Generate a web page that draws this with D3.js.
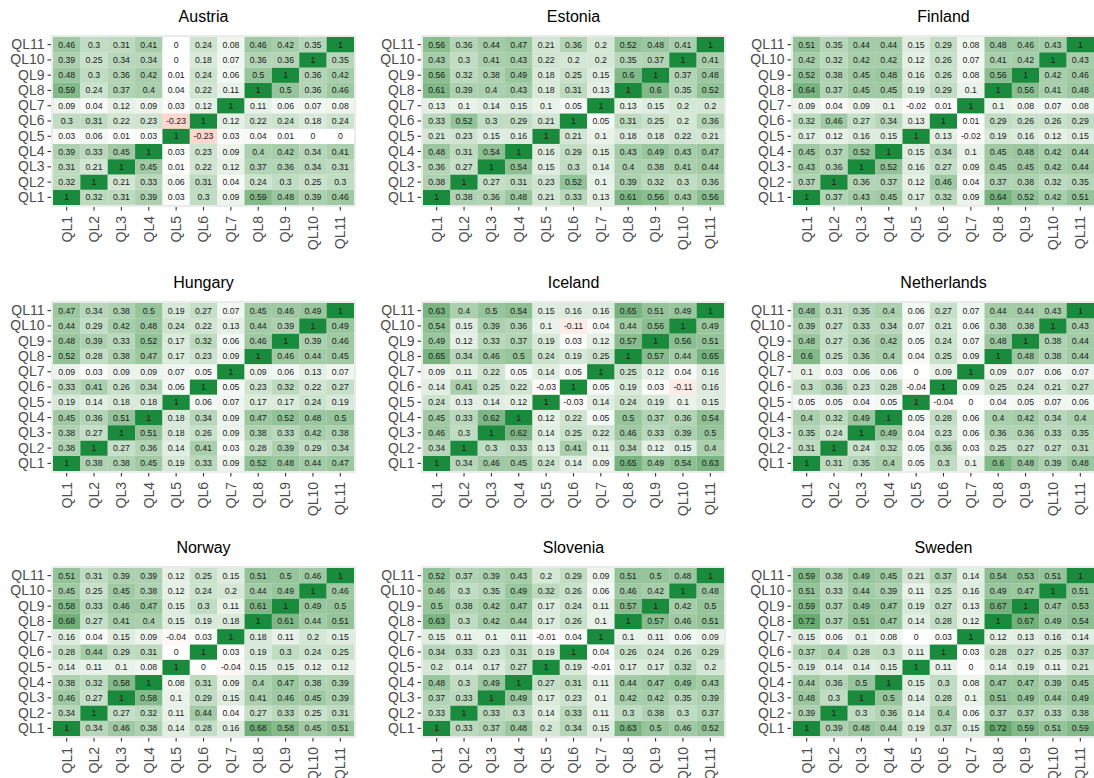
<!DOCTYPE html>
<html>
<head>
<meta charset="utf-8">
<script src="https://cdn.jsdelivr.net/npm/d3@7"></script>
<style>
  html, body { margin: 0; padding: 0; background: #ffffff; }
  svg { display: block; font-family: "Liberation Sans", Arial, sans-serif; }
</style>
</head>
<body>
<svg id="chart" width="1094" height="778"></svg>
<script>
// Item labels shared by every country matrix
const items = ["QL1", "QL2", "QL3", "QL4", "QL5", "QL6", "QL7", "QL8", "QL9", "QL10", "QL11"];

const countries = ["Austria", "Estonia", "Finland", "Hungary", "Iceland", "Netherlands", "Norway", "Slovenia", "Sweden"];

// Correlation matrices, row i = QL(i+1), column j = QL(j+1)
const austria = [
  [1, 0.32, 0.31, 0.39, 0.03, 0.3, 0.09, 0.59, 0.48, 0.39, 0.46],
  [0.32, 1, 0.21, 0.33, 0.06, 0.31, 0.04, 0.24, 0.3, 0.25, 0.3],
  [0.31, 0.21, 1, 0.45, 0.01, 0.22, 0.12, 0.37, 0.36, 0.34, 0.31],
  [0.39, 0.33, 0.45, 1, 0.03, 0.23, 0.09, 0.4, 0.42, 0.34, 0.41],
  [0.03, 0.06, 0.01, 0.03, 1, -0.23, 0.03, 0.04, 0.01, 0, 0],
  [0.3, 0.31, 0.22, 0.23, -0.23, 1, 0.12, 0.22, 0.24, 0.18, 0.24],
  [0.09, 0.04, 0.12, 0.09, 0.03, 0.12, 1, 0.11, 0.06, 0.07, 0.08],
  [0.59, 0.24, 0.37, 0.4, 0.04, 0.22, 0.11, 1, 0.5, 0.36, 0.46],
  [0.48, 0.3, 0.36, 0.42, 0.01, 0.24, 0.06, 0.5, 1, 0.36, 0.42],
  [0.39, 0.25, 0.34, 0.34, 0, 0.18, 0.07, 0.36, 0.36, 1, 0.35],
  [0.46, 0.3, 0.31, 0.41, 0, 0.24, 0.08, 0.46, 0.42, 0.35, 1]
];

const estonia = [
  [1, 0.38, 0.36, 0.48, 0.21, 0.33, 0.13, 0.61, 0.56, 0.43, 0.56],
  [0.38, 1, 0.27, 0.31, 0.23, 0.52, 0.1, 0.39, 0.32, 0.3, 0.36],
  [0.36, 0.27, 1, 0.54, 0.15, 0.3, 0.14, 0.4, 0.38, 0.41, 0.44],
  [0.48, 0.31, 0.54, 1, 0.16, 0.29, 0.15, 0.43, 0.49, 0.43, 0.47],
  [0.21, 0.23, 0.15, 0.16, 1, 0.21, 0.1, 0.18, 0.18, 0.22, 0.21],
  [0.33, 0.52, 0.3, 0.29, 0.21, 1, 0.05, 0.31, 0.25, 0.2, 0.36],
  [0.13, 0.1, 0.14, 0.15, 0.1, 0.05, 1, 0.13, 0.15, 0.2, 0.2],
  [0.61, 0.39, 0.4, 0.43, 0.18, 0.31, 0.13, 1, 0.6, 0.35, 0.52],
  [0.56, 0.32, 0.38, 0.49, 0.18, 0.25, 0.15, 0.6, 1, 0.37, 0.48],
  [0.43, 0.3, 0.41, 0.43, 0.22, 0.2, 0.2, 0.35, 0.37, 1, 0.41],
  [0.56, 0.36, 0.44, 0.47, 0.21, 0.36, 0.2, 0.52, 0.48, 0.41, 1]
];

const finland = [
  [1, 0.37, 0.43, 0.45, 0.17, 0.32, 0.09, 0.64, 0.52, 0.42, 0.51],
  [0.37, 1, 0.36, 0.37, 0.12, 0.46, 0.04, 0.37, 0.38, 0.32, 0.35],
  [0.43, 0.36, 1, 0.52, 0.16, 0.27, 0.09, 0.45, 0.45, 0.42, 0.44],
  [0.45, 0.37, 0.52, 1, 0.15, 0.34, 0.1, 0.45, 0.48, 0.42, 0.44],
  [0.17, 0.12, 0.16, 0.15, 1, 0.13, -0.02, 0.19, 0.16, 0.12, 0.15],
  [0.32, 0.46, 0.27, 0.34, 0.13, 1, 0.01, 0.29, 0.26, 0.26, 0.29],
  [0.09, 0.04, 0.09, 0.1, -0.02, 0.01, 1, 0.1, 0.08, 0.07, 0.08],
  [0.64, 0.37, 0.45, 0.45, 0.19, 0.29, 0.1, 1, 0.56, 0.41, 0.48],
  [0.52, 0.38, 0.45, 0.48, 0.16, 0.26, 0.08, 0.56, 1, 0.42, 0.46],
  [0.42, 0.32, 0.42, 0.42, 0.12, 0.26, 0.07, 0.41, 0.42, 1, 0.43],
  [0.51, 0.35, 0.44, 0.44, 0.15, 0.29, 0.08, 0.48, 0.46, 0.43, 1]
];

const hungary = [
  [1, 0.38, 0.38, 0.45, 0.19, 0.33, 0.09, 0.52, 0.48, 0.44, 0.47],
  [0.38, 1, 0.27, 0.36, 0.14, 0.41, 0.03, 0.28, 0.39, 0.29, 0.34],
  [0.38, 0.27, 1, 0.51, 0.18, 0.26, 0.09, 0.38, 0.33, 0.42, 0.38],
  [0.45, 0.36, 0.51, 1, 0.18, 0.34, 0.09, 0.47, 0.52, 0.48, 0.5],
  [0.19, 0.14, 0.18, 0.18, 1, 0.06, 0.07, 0.17, 0.17, 0.24, 0.19],
  [0.33, 0.41, 0.26, 0.34, 0.06, 1, 0.05, 0.23, 0.32, 0.22, 0.27],
  [0.09, 0.03, 0.09, 0.09, 0.07, 0.05, 1, 0.09, 0.06, 0.13, 0.07],
  [0.52, 0.28, 0.38, 0.47, 0.17, 0.23, 0.09, 1, 0.46, 0.44, 0.45],
  [0.48, 0.39, 0.33, 0.52, 0.17, 0.32, 0.06, 0.46, 1, 0.39, 0.46],
  [0.44, 0.29, 0.42, 0.48, 0.24, 0.22, 0.13, 0.44, 0.39, 1, 0.49],
  [0.47, 0.34, 0.38, 0.5, 0.19, 0.27, 0.07, 0.45, 0.46, 0.49, 1]
];

const iceland = [
  [1, 0.34, 0.46, 0.45, 0.24, 0.14, 0.09, 0.65, 0.49, 0.54, 0.63],
  [0.34, 1, 0.3, 0.33, 0.13, 0.41, 0.11, 0.34, 0.12, 0.15, 0.4],
  [0.46, 0.3, 1, 0.62, 0.14, 0.25, 0.22, 0.46, 0.33, 0.39, 0.5],
  [0.45, 0.33, 0.62, 1, 0.12, 0.22, 0.05, 0.5, 0.37, 0.36, 0.54],
  [0.24, 0.13, 0.14, 0.12, 1, -0.03, 0.14, 0.24, 0.19, 0.1, 0.15],
  [0.14, 0.41, 0.25, 0.22, -0.03, 1, 0.05, 0.19, 0.03, -0.11, 0.16],
  [0.09, 0.11, 0.22, 0.05, 0.14, 0.05, 1, 0.25, 0.12, 0.04, 0.16],
  [0.65, 0.34, 0.46, 0.5, 0.24, 0.19, 0.25, 1, 0.57, 0.44, 0.65],
  [0.49, 0.12, 0.33, 0.37, 0.19, 0.03, 0.12, 0.57, 1, 0.56, 0.51],
  [0.54, 0.15, 0.39, 0.36, 0.1, -0.11, 0.04, 0.44, 0.56, 1, 0.49],
  [0.63, 0.4, 0.5, 0.54, 0.15, 0.16, 0.16, 0.65, 0.51, 0.49, 1]
];

const netherlands = [
  [1, 0.31, 0.35, 0.4, 0.05, 0.3, 0.1, 0.6, 0.48, 0.39, 0.48],
  [0.31, 1, 0.24, 0.32, 0.05, 0.36, 0.03, 0.25, 0.27, 0.27, 0.31],
  [0.35, 0.24, 1, 0.49, 0.04, 0.23, 0.06, 0.36, 0.36, 0.33, 0.35],
  [0.4, 0.32, 0.49, 1, 0.05, 0.28, 0.06, 0.4, 0.42, 0.34, 0.4],
  [0.05, 0.05, 0.04, 0.05, 1, -0.04, 0, 0.04, 0.05, 0.07, 0.06],
  [0.3, 0.36, 0.23, 0.28, -0.04, 1, 0.09, 0.25, 0.24, 0.21, 0.27],
  [0.1, 0.03, 0.06, 0.06, 0, 0.09, 1, 0.09, 0.07, 0.06, 0.07],
  [0.6, 0.25, 0.36, 0.4, 0.04, 0.25, 0.09, 1, 0.48, 0.38, 0.44],
  [0.48, 0.27, 0.36, 0.42, 0.05, 0.24, 0.07, 0.48, 1, 0.38, 0.44],
  [0.39, 0.27, 0.33, 0.34, 0.07, 0.21, 0.06, 0.38, 0.38, 1, 0.43],
  [0.48, 0.31, 0.35, 0.4, 0.06, 0.27, 0.07, 0.44, 0.44, 0.43, 1]
];

const norway = [
  [1, 0.34, 0.46, 0.38, 0.14, 0.28, 0.16, 0.68, 0.58, 0.45, 0.51],
  [0.34, 1, 0.27, 0.32, 0.11, 0.44, 0.04, 0.27, 0.33, 0.25, 0.31],
  [0.46, 0.27, 1, 0.58, 0.1, 0.29, 0.15, 0.41, 0.46, 0.45, 0.39],
  [0.38, 0.32, 0.58, 1, 0.08, 0.31, 0.09, 0.4, 0.47, 0.38, 0.39],
  [0.14, 0.11, 0.1, 0.08, 1, 0, -0.04, 0.15, 0.15, 0.12, 0.12],
  [0.28, 0.44, 0.29, 0.31, 0, 1, 0.03, 0.19, 0.3, 0.24, 0.25],
  [0.16, 0.04, 0.15, 0.09, -0.04, 0.03, 1, 0.18, 0.11, 0.2, 0.15],
  [0.68, 0.27, 0.41, 0.4, 0.15, 0.19, 0.18, 1, 0.61, 0.44, 0.51],
  [0.58, 0.33, 0.46, 0.47, 0.15, 0.3, 0.11, 0.61, 1, 0.49, 0.5],
  [0.45, 0.25, 0.45, 0.38, 0.12, 0.24, 0.2, 0.44, 0.49, 1, 0.46],
  [0.51, 0.31, 0.39, 0.39, 0.12, 0.25, 0.15, 0.51, 0.5, 0.46, 1]
];

const slovenia = [
  [1, 0.33, 0.37, 0.48, 0.2, 0.34, 0.15, 0.63, 0.5, 0.46, 0.52],
  [0.33, 1, 0.33, 0.3, 0.14, 0.33, 0.11, 0.3, 0.38, 0.3, 0.37],
  [0.37, 0.33, 1, 0.49, 0.17, 0.23, 0.1, 0.42, 0.42, 0.35, 0.39],
  [0.48, 0.3, 0.49, 1, 0.27, 0.31, 0.11, 0.44, 0.47, 0.49, 0.43],
  [0.2, 0.14, 0.17, 0.27, 1, 0.19, -0.01, 0.17, 0.17, 0.32, 0.2],
  [0.34, 0.33, 0.23, 0.31, 0.19, 1, 0.04, 0.26, 0.24, 0.26, 0.29],
  [0.15, 0.11, 0.1, 0.11, -0.01, 0.04, 1, 0.1, 0.11, 0.06, 0.09],
  [0.63, 0.3, 0.42, 0.44, 0.17, 0.26, 0.1, 1, 0.57, 0.46, 0.51],
  [0.5, 0.38, 0.42, 0.47, 0.17, 0.24, 0.11, 0.57, 1, 0.42, 0.5],
  [0.46, 0.3, 0.35, 0.49, 0.32, 0.26, 0.06, 0.46, 0.42, 1, 0.48],
  [0.52, 0.37, 0.39, 0.43, 0.2, 0.29, 0.09, 0.51, 0.5, 0.48, 1]
];

const sweden = [
  [1, 0.39, 0.48, 0.44, 0.19, 0.37, 0.15, 0.72, 0.59, 0.51, 0.59],
  [0.39, 1, 0.3, 0.36, 0.14, 0.4, 0.06, 0.37, 0.37, 0.33, 0.38],
  [0.48, 0.3, 1, 0.5, 0.14, 0.28, 0.1, 0.51, 0.49, 0.44, 0.49],
  [0.44, 0.36, 0.5, 1, 0.15, 0.3, 0.08, 0.47, 0.47, 0.39, 0.45],
  [0.19, 0.14, 0.14, 0.15, 1, 0.11, 0, 0.14, 0.19, 0.11, 0.21],
  [0.37, 0.4, 0.28, 0.3, 0.11, 1, 0.03, 0.28, 0.27, 0.25, 0.37],
  [0.15, 0.06, 0.1, 0.08, 0, 0.03, 1, 0.12, 0.13, 0.16, 0.14],
  [0.72, 0.37, 0.51, 0.47, 0.14, 0.28, 0.12, 1, 0.67, 0.49, 0.54],
  [0.59, 0.37, 0.49, 0.47, 0.19, 0.27, 0.13, 0.67, 1, 0.47, 0.53],
  [0.51, 0.33, 0.44, 0.39, 0.11, 0.25, 0.16, 0.49, 0.47, 1, 0.51],
  [0.59, 0.38, 0.49, 0.45, 0.21, 0.37, 0.14, 0.54, 0.53, 0.51, 1]
];

const matrices = [austria, estonia, finland, hungary, iceland, netherlands, norway, slovenia, sweden];

// ---- layout ----
const svg = d3.select("#chart");
const colOffsets = [0, 370, 740];
const cellTops = [37, 303, 568];
const cellLeft = 53;
const gridW = 301;
const gridH = 168;

// diverging fill: red for negative, white at zero, green for positive
const fill = d3.scaleLinear()
  .domain([-1, 0, 1])
  .range(["#e8423a", "#ffffff", "#1a8a3d"])
  .interpolate(d3.interpolateLab);

countries.forEach((name, k) => {
  const col = k % 3, row = Math.floor(k / 3);
  const g = svg.append("g")
    .attr("transform", `translate(${colOffsets[col] + cellLeft},${cellTops[row]})`);

  const x = d3.scaleBand().domain(items).range([0, gridW]);
  const y = d3.scaleBand().domain(items).range([gridH, 0]);

  // panel background
  g.append("rect")
    .attr("x", -2).attr("y", -2)
    .attr("width", gridW + 4).attr("height", gridH + 4)
    .attr("fill", "#ebebeb");

  const m = matrices[k];
  const cells = [];
  items.forEach((ri, i) => items.forEach((cj, j) => cells.push({ r: ri, c: cj, v: m[i][j] })));

  g.selectAll("rect.cell").data(cells).join("rect")
    .attr("class", "cell")
    .attr("x", d => x(d.c))
    .attr("y", d => y(d.r))
    .attr("width", x.bandwidth())
    .attr("height", y.bandwidth())
    .attr("fill", d => fill(d.v));

  g.selectAll("text.val").data(cells).join("text")
    .attr("class", "val")
    .attr("x", d => x(d.c) + x.bandwidth() / 2)
    .attr("y", d => y(d.r) + y.bandwidth() / 2)
    .attr("dy", "0.35em")
    .attr("text-anchor", "middle")
    .attr("font-size", 8.7)
    .attr("fill", "#1a1a1a")
    .text(d => String(d.v));

  // y axis
  const yAxis = g.append("g")
    .attr("transform", "translate(-2,0)")
    .call(d3.axisLeft(y).tickSize(3.5).tickPadding(3));
  yAxis.select(".domain").remove();
  yAxis.selectAll(".tick line").attr("stroke", "#333333").attr("stroke-width", 1.1);
  yAxis.selectAll(".tick text")
    .attr("font-size", 14)
    .attr("fill", "#4d4d4d")
    .attr("font-family", "Liberation Sans, Arial, sans-serif");

  // x axis with vertical labels
  const xAxis = g.append("g")
    .attr("transform", `translate(0,${gridH + 2})`)
    .call(d3.axisBottom(x).tickSize(3.5).tickPadding(3));
  xAxis.select(".domain").remove();
  xAxis.selectAll(".tick line").attr("stroke", "#333333").attr("stroke-width", 1.1);
  xAxis.selectAll(".tick text")
    .attr("font-size", 14)
    .attr("fill", "#4d4d4d")
    .attr("font-family", "Liberation Sans, Arial, sans-serif")
    .attr("text-anchor", "end")
    .attr("transform", "rotate(-90)")
    .attr("x", -9)
    .attr("y", 0)
    .attr("dy", "0.35em");

  // title
  g.append("text")
    .attr("x", gridW / 2)
    .attr("y", -15)
    .attr("text-anchor", "middle")
    .attr("font-size", 16)
    .attr("fill", "#000000")
    .text(name);
});
</script>
</body>
</html>
